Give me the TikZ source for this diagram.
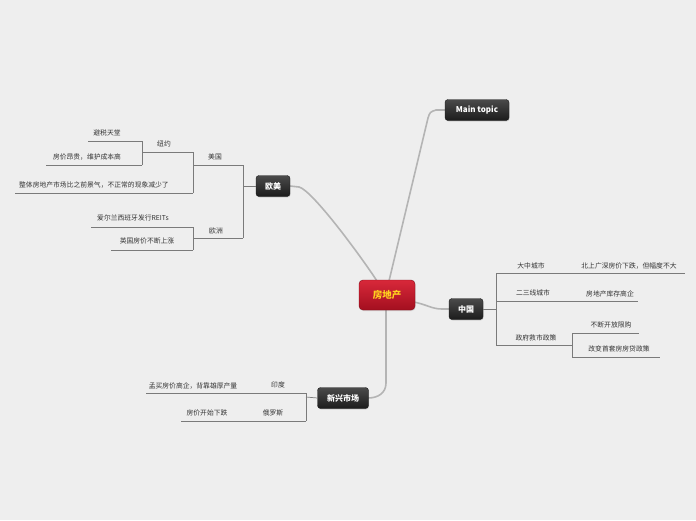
\documentclass[tikz,border=0pt]{standalone}
\usepackage{fontspec}
\setmainfont{Noto Sans CJK SC}
\usetikzlibrary{shadows}
\definecolor{bg}{HTML}{EEEEEE}
\definecolor{topA}{HTML}{4A4A4A}
\definecolor{topB}{HTML}{1C1C1C}
\definecolor{redA}{HTML}{D8283A}
\definecolor{redB}{HTML}{A30F1F}
\definecolor{gold}{HTML}{FFD21F}
\definecolor{leafc}{HTML}{333333}
\definecolor{linec}{HTML}{7A7A7A}
\definecolor{mainc}{HTML}{B4B4B4}
\begin{document}
\begin{tikzpicture}[x=1pt,y=-1pt,
  topic/.style={rounded corners=3pt, top color=topA, bottom color=topB, draw=topB,
    text=white, font=\fontsize{8}{9}\selectfont\bfseries, minimum height=21pt,
    inner xsep=5pt, inner ysep=0pt,
    drop shadow={shadow xshift=0.6pt, shadow yshift=-1pt, opacity=0.25}},
  central/.style={rounded corners=4pt, top color=redA, bottom color=redB, draw=redB!80!black,
    text=gold, font=\fontsize{9.5}{10}\selectfont\bfseries, minimum width=56pt, minimum height=30pt,
    drop shadow={shadow xshift=0.6pt, shadow yshift=-1pt, opacity=0.25}},
  leaf/.style={font=\fontsize{6.8}{7}\selectfont, text=leafc, inner sep=0pt},
  branch/.style={draw=linec, line width=0.7pt},
  mainline/.style={draw=mainc, line width=1.6pt, line cap=round}]
\useasboundingbox[fill=bg] (0,0) rectangle (696,520);

% main connectors (drawn first)
\coordinate (mtbend) at (436,110);
\coordinate (ombend) at (299,187);
\coordinate (zgbend) at (442,309);
\coordinate (xxbend) at (386,383);
\coordinate (r1) at (389,281);
\coordinate (r2) at (377,281);
\coordinate (r3) at (414,302);
\coordinate (r4) at (386,309);
\draw[mainline] (r1) -- (428,118) .. controls (430,112) .. (mtbend) -- (445,110);
\draw[mainline] (r2) .. controls (360,255) and (312,190) .. (ombend) -- (290,186);
\draw[mainline] (r3) .. controls (428,305) and (432,309) .. (zgbend) -- (450,309);
\draw[mainline] (r4) -- (xxbend) .. controls (386,393) and (378,398) .. (368,398);

% topics
\node[central] (root) at (387,295) {房地产};
\node[topic, minimum width=64pt] (mt) at (477,110) {Main topic};
\node[topic, minimum width=34pt] (om) at (273,186) {欧美};
\node[topic, minimum width=34pt] (zg) at (466,309) {中国};
\node[topic, minimum width=51pt] (xx) at (343,398) {新兴市场};

% 欧美 subtree
\coordinate (ja) at (243,186);
\coordinate (jaT) at (243,165);
\coordinate (jaB) at (243,238);
\draw[branch] (om.west) -- (ja);
\draw[branch] (jaT) -- (jaB);
\node[leaf] (us) at (215,157) {美国};
\coordinate (jb) at (193,165);
\draw[branch] (jaT) -- (jb);
\coordinate (jbT) at (193,152);
\coordinate (jbB) at (193,193);
\draw[branch] (jbT) -- (jbB);
\node[leaf] (ny) at (164,144) {纽约};
\coordinate (jc) at (142,152);
\draw[branch] (jbT) -- (jc);
\coordinate (jcT) at (142,141);
\coordinate (jcB) at (142,165);
\draw[branch] (jcT) -- (jcB);
\node[leaf] (bs) at (107,133) {避税天堂};
\coordinate (bsE) at (88,141);
\draw[branch] (jcT) -- (bsE);
\node[leaf] (fj) at (87,157) {房价昂贵，维护成本高};
\coordinate (fjE) at (46,165);
\draw[branch] (jcB) -- (fjE);
\node[leaf] (zt) at (94,185) {整体房地产市场比之前景气，不正常的现象减少了};
\coordinate (ztE) at (15,193);
\draw[branch] (jbB) -- (ztE);
\node[leaf] (oz) at (216,231) {欧洲};
\coordinate (jd) at (193,238);
\draw[branch] (jaB) -- (jd);
\coordinate (jdT) at (193,227);
\coordinate (jdB) at (193,250);
\draw[branch] (jdT) -- (jdB);
\node[leaf] (ae) at (133,218) {爱尔兰西班牙发行REITs};
\coordinate (aeE) at (91,227);
\draw[branch] (jdT) -- (aeE);
\node[leaf] (yg) at (147,241) {英国房价不断上涨};
\coordinate (ygE) at (111,250);
\draw[branch] (jdB) -- (ygE);

% 中国 subtree
\coordinate (je) at (496,309);
\coordinate (jeT) at (496,273);
\coordinate (jeB) at (496,345);
\draw[branch] (zg.east) -- (je);
\draw[branch] (jeT) -- (jeB);
\node[leaf] (dz) at (531,266) {大中城市};
\coordinate (dzE) at (576,273);
\draw[branch] (jeT) -- (dzE);
\node[leaf] (bg) at (629,266) {北上广深房价下跌，但幅度不大};
\coordinate (bgE) at (685,273);
\draw[branch] (dzE) -- (bgE);
\node[leaf] (es) at (533,293) {二三线城市};
\coordinate (jf) at (496,301);
\coordinate (esE) at (568,301);
\draw[branch] (jf) -- (esE);
\node[leaf] (kc) at (610,294) {房地产库存高企};
\coordinate (kcE) at (638,301);
\draw[branch] (esE) -- (kcE);
\node[leaf] (zf) at (536,338) {政府救市政策};
\coordinate (jg) at (572,345);
\draw[branch] (jeB) -- (jg);
\coordinate (jgT) at (572,333);
\coordinate (jgB) at (572,357);
\draw[branch] (jgT) -- (jgB);
\node[leaf] (kf) at (611,325) {不断开放限购};
\coordinate (kfE) at (639,333);
\draw[branch] (jgT) -- (kfE);
\node[leaf] (gb) at (619,349) {改变首套房房贷政策};
\coordinate (gbE) at (660,357);
\draw[branch] (jgB) -- (gbE);

% 新兴市场 subtree
\coordinate (jh) at (306,397);
\coordinate (jhT) at (306,393);
\coordinate (jhB) at (306,421);
\draw[branch] (xx.west) -- (jh);
\draw[branch] (jhT) -- (jhB);
\node[leaf] (yd) at (278,385) {印度};
\coordinate (ydE) at (255,393);
\draw[branch] (jhT) -- (ydE);
\node[leaf] (mm) at (193,386) {孟买房价高企，背靠雄厚产量};
\coordinate (mmE) at (146,393);
\draw[branch] (ydE) -- (mmE);
\node[leaf] (els) at (273,413) {俄罗斯};
\coordinate (elsE) at (240,421);
\draw[branch] (jhB) -- (elsE);
\node[leaf] (fx) at (207,413) {房价开始下跌};
\coordinate (fxE) at (181,421);
\draw[branch] (elsE) -- (fxE);
\end{tikzpicture}
\end{document}
